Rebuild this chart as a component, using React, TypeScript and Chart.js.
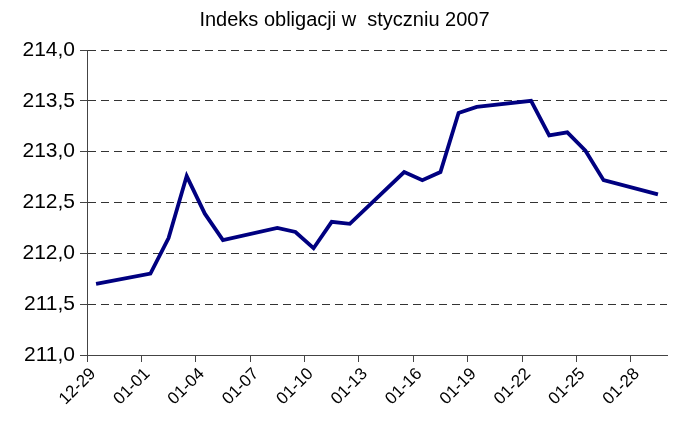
import React, { useEffect, useRef } from "react";
import { Chart, registerables } from "chart.js";

Chart.register(...registerables);

const titleText = "Indeks obligacji w  styczniu 2007";

// trading days (MM-DD) and index values
const dates = [
  "12-29", "01-01", "01-02", "01-03", "01-04", "01-05",
  "01-08", "01-09", "01-10", "01-11", "01-12",
  "01-15", "01-16", "01-17", "01-18", "01-19",
  "01-22", "01-23", "01-24", "01-25", "01-26",
  "01-29",
];
const values = [
  211.70, 211.80, 212.15, 212.76, 212.39, 212.13,
  212.25, 212.21, 212.05, 212.31, 212.29,
  212.80, 212.72, 212.80, 213.38, 213.44,
  213.50, 213.16, 213.19, 213.01, 212.72,
  212.58,
];
// x tick labels, one every 3 days starting at 12-29
const xTickLabels = [
  "12-29", "01-01", "01-04", "01-07", "01-10", "01-13",
  "01-16", "01-19", "01-22", "01-25", "01-28",
];
const xTickStep = 3;
const totalDays = 32; // 12-29 .. 01-29
const yMin = 211;
const yMax = 214;
const yStep = 0.5;

function dayIndex(d: string): number {
  const [m, day] = d.split("-").map(Number);
  return m === 12 ? day - 29 : day + 2;
}

const FONT = "'Liberation Sans', Arial, sans-serif";

export default function App() {
  const ref = useRef<HTMLCanvasElement | null>(null);
  useEffect(() => {
    document.body.style.margin = "0";
    const ctx = ref.current!.getContext("2d")!;
    const points = dates.map((d, i) => ({ x: dayIndex(d) + 0.5, y: values[i] }));
    const chart = new Chart(ctx, {
      type: "line",
      data: {
        datasets: [
          {
            data: points,
            borderColor: "#000080",
            borderWidth: 3.8,
            pointRadius: 0,
            tension: 0,
            fill: false,
          },
        ],
      },
      options: {
        animation: false,
        responsive: true,
        maintainAspectRatio: false,
        layout: { padding: { left: 22, right: 6, top: 0, bottom: 0 } },
        plugins: {
          legend: { display: false },
          tooltip: { enabled: false },
          title: {
            display: true,
            text: titleText,
            color: "#000",
            font: { family: FONT, size: 20, weight: "normal" },
            padding: { top: 8, bottom: 18 },
          },
        },
        scales: {
          x: {
            type: "linear",
            min: 0,
            max: totalDays,
            offset: false,
            afterFit: (s: any) => {
              s.height = 72;
            },
            ticks: {
              stepSize: xTickStep,
              includeBounds: false,
              autoSkip: false,
              maxRotation: 45,
              minRotation: 45,
              color: "#000",
              font: { family: FONT, size: 17 },
              padding: 2,
              labelOffset: 6,
              callback: (v: any) => xTickLabels[Math.round(Number(v) / xTickStep)] ?? "",
            },
            grid: {
              display: true,
              drawOnChartArea: false,
              drawTicks: true,
              tickLength: 7,
              tickColor: "#444",
              tickWidth: 1,
            },
            border: { display: true, color: "#444", width: 1 },
          },
          y: {
            min: yMin,
            max: yMax,
            afterFit: (s: any) => {
              s.width = 65;
            },
            ticks: {
              stepSize: yStep,
              color: "#000",
              font: { family: FONT, size: 21 },
              padding: 5,
              callback: (v: any) => Number(v).toFixed(1).replace(".", ","),
            },
            grid: {
              display: true,
              drawOnChartArea: true,
              drawTicks: true,
              tickLength: 7,
              color: "#333",
              lineWidth: 1,
              tickColor: "#444",
              tickWidth: 1,
              tickBorderDash: [],
            },
            border: { display: true, color: "#444", width: 1, dash: [8, 5] },
          },
        },
      },
    });
    return () => chart.destroy();
  }, []);
  return (
    <div style={{ width: 673, height: 427, position: "relative" }}>
      <canvas ref={ref} />
    </div>
  );
}
